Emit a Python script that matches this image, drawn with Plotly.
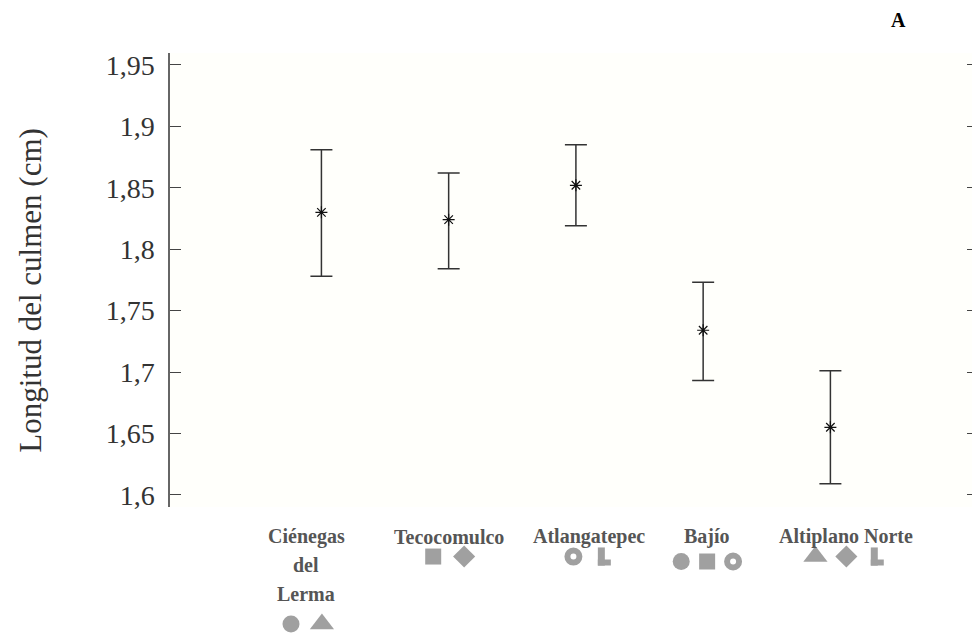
import plotly.graph_objects as go

# ---- data ----
categories = ["Ciénegas del Lerma", "Tecocomulco", "Atlangatepec", "Bajío", "Altiplano Norte"]
label_lines = [["Ciénegas", "del", "Lerma"], ["Tecocomulco"], ["Atlangatepec"], ["Bajío"], ["Altiplano Norte"]]
means = [1.830, 1.824, 1.852, 1.734, 1.655]
upper = [1.881, 1.862, 1.885, 1.773, 1.701]
lower = [1.778, 1.784, 1.819, 1.693, 1.609]
group_symbols = [
    ["circle", "triangle-up"],
    ["square", "diamond"],
    ["circle-open", "L"],
    ["circle", "square", "circle-open"],
    ["triangle-up", "diamond", "L"],
]
y_ticks = [1.6, 1.65, 1.7, 1.75, 1.8, 1.85, 1.9, 1.95]

# ---- style / layout geometry ----
label_xshift = [-15, 0, 13, 4, 16]
symbol_size = {"circle": 17, "square": 16, "diamond": 17, "triangle-up": 21}
GRAY = "#a0a0a0"
LBL = "#555555"
Y_MIN, Y_MAX = 1.5902, 1.9597
X_MIN, X_MAX = -1.19, 5.16
FIG_W, FIG_H = 972, 631          # page body adds 8px offset
TOP, LEFT = 45, 162
MAIN_H = 457                     # main plot height in px
BOT_H = FIG_H - TOP - MAIN_H     # strip under the plot for labels/symbols
TOTAL_H = MAIN_H + BOT_H
PLOT_W = FIG_W - LEFT
px_x = PLOT_W / (X_MAX - X_MIN)
split = BOT_H / TOTAL_H
FIRST_LINE = 30
LINE_GAP = 29

x = list(range(len(categories)))
err_plus = [u - m for u, m in zip(upper, means)]
err_minus = [m - l for m, l in zip(means, lower)]

fig = go.Figure()
fig.add_trace(go.Scatter(
    x=x, y=means, mode="markers",
    marker=dict(symbol="asterisk", size=10, line=dict(width=1.2, color="#111")),
    error_y=dict(type="data", array=err_plus, arrayminus=err_minus,
                 color="#333", thickness=1.5, width=11),
    showlegend=False, hoverinfo="skip",
))

# group membership symbols below the category labels (lower strip, y2 in px below plot)
filled_x, filled_y, filled_s = [], [], []
ring_x, ring_y = [], []
lv_x, lv_y, lh_x, lh_y = [], [], [], []
for i, syms in enumerate(group_symbols):
    n = len(syms)
    nl = len(label_lines[i])
    row_px = FIRST_LINE + LINE_GAP * (nl - 1) + (20 if nl == 1 else 30) + (5 if i == 3 else 0)
    spacing_px = 26 if i == 3 else 31
    for k, s in enumerate(syms):
        cx_px = label_xshift[i] + (k - (n - 1) / 2) * spacing_px
        xi = i + cx_px / px_x
        if s == "L":
            lv_x.append(i + (cx_px - 3) / px_x); lv_y.append(-row_px)
            lh_x.append(xi); lh_y.append(-row_px - 6)
        elif s == "circle-open":
            ring_x.append(xi); ring_y.append(-row_px)
        else:
            filled_x.append(xi); filled_y.append(-row_px); filled_s.append(s)

fig.add_trace(go.Scatter(
    x=filled_x, y=filled_y, mode="markers", yaxis="y2",
    marker=dict(symbol=filled_s, size=[symbol_size[s] for s in filled_s], color=GRAY,
                opacity=1, line=dict(width=0)),
    showlegend=False, hoverinfo="skip",
))
fig.add_trace(go.Scatter(
    x=ring_x, y=ring_y, mode="markers", yaxis="y2",
    marker=dict(symbol="circle-open", size=12, color=GRAY, opacity=1,
                line=dict(width=6, color=GRAY)),
    showlegend=False, hoverinfo="skip",
))
# "L" glyph built from a vertical stroke and a foot (line markers are ~1.4x size long)
fig.add_trace(go.Scatter(
    x=lv_x, y=lv_y, mode="markers", yaxis="y2",
    marker=dict(symbol="line-ns", size=13, color=GRAY, opacity=1,
                line=dict(width=7, color=GRAY)),
    showlegend=False, hoverinfo="skip",
))
fig.add_trace(go.Scatter(
    x=lh_x, y=lh_y, mode="markers", yaxis="y2",
    marker=dict(symbol="line-ew", size=9.3, color=GRAY, opacity=1,
                line=dict(width=6, color=GRAY)),
    showlegend=False, hoverinfo="skip",
))

annotations = []
for i, lines in enumerate(label_lines):
    for j, t in enumerate(lines):
        annotations.append(dict(
            x=i, xref="x", y=-(FIRST_LINE + LINE_GAP * j), yref="y2", yanchor="middle",
            xanchor="center", xshift=label_xshift[i], showarrow=False,
            text="<b>%s</b>" % t,
            font=dict(family="Liberation Serif", size=20, color=LBL),
        ))
annotations.append(dict(
    x=(30 - 170) / PLOT_W, xref="paper", y=(TOTAL_H - (292 - 53)) / TOTAL_H, yref="paper",
    textangle=-90, showarrow=False,
    text="Longitud del culmen (cm)", xanchor="center", yanchor="middle",
    font=dict(family="Liberation Serif", size=31, color="#333"),
))
annotations.append(dict(
    x=(900 - 170) / PLOT_W, xref="paper", y=(TOTAL_H + (53 - 20)) / TOTAL_H, yref="paper",
    showarrow=False, text="<b>A</b>", xanchor="center", yanchor="middle",
    font=dict(family="Liberation Serif", size=20, color="#000"),
))

fig.update_layout(
    width=FIG_W, height=FIG_H,
    margin=dict(l=LEFT, r=0, t=TOP, b=0),
    paper_bgcolor="white", plot_bgcolor="rgba(0,0,0,0)",
    separators=",.",
    xaxis=dict(range=[X_MIN, X_MAX], showticklabels=False, ticks="", showgrid=False,
               zeroline=False, showline=False),
    yaxis=dict(domain=[split, 1], range=[Y_MIN, Y_MAX], tickvals=y_ticks, ticks="inside",
               ticklen=11, tickcolor="#444", tickwidth=1, showline=True, linecolor="#666",
               linewidth=1.5, mirror="ticks", showgrid=False, zeroline=False,
               ticklabelstandoff=8,
               tickfont=dict(family="Liberation Serif", size=28, color="#333")),
    yaxis2=dict(domain=[0, split], range=[-BOT_H, 0], visible=False, anchor="x",
                showgrid=False, zeroline=False),
    shapes=[dict(type="rect", xref="x domain", yref="y domain", x0=0, x1=1, y0=0, y1=1,
                 fillcolor="#fffffb", line=dict(width=0), layer="below")],
    annotations=annotations,
)

fig.write_html("out.html")
